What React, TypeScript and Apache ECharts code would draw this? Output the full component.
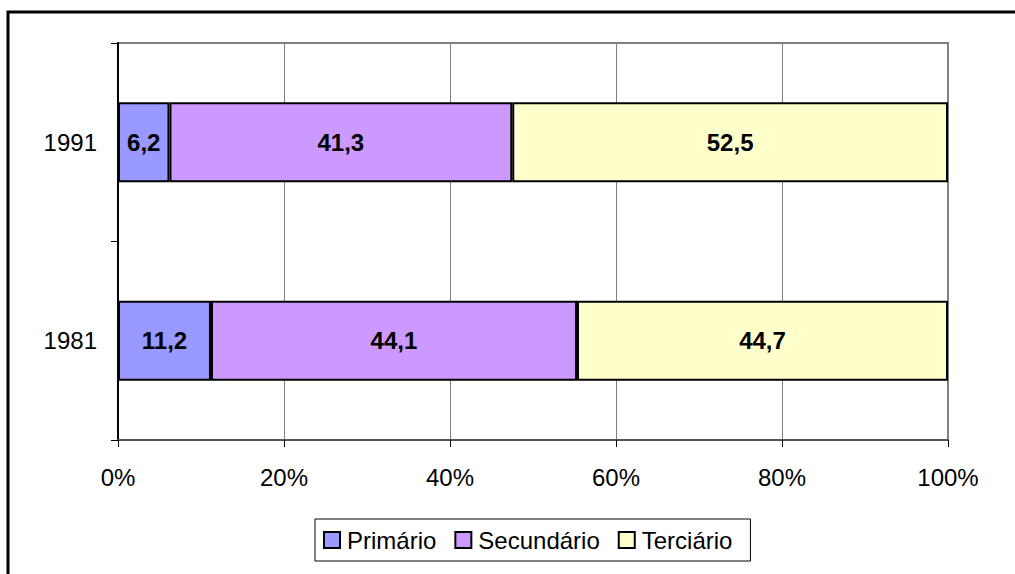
import React, { useEffect, useRef } from "react";
import * as echarts from "echarts";

const years = ["1981", "1991"];
const primario = [11.2, 6.2];
const secundario = [44.1, 41.3];
const terciario = [44.7, 52.5];
const xTicks = [0, 20, 40, 60, 80, 100];

const FONT = "'Liberation Sans', Arial, sans-serif";

export default function App() {
  const ref = useRef<HTMLDivElement>(null);
  useEffect(() => {
    if (!ref.current) return;
    const chart = echarts.init(ref.current, undefined, { renderer: "svg" });
    const fmt = (p: any) => String(p.value).replace(".", ",");
    const mk = (name: string, data: number[], color: string) => ({
      name,
      type: "bar",
      stack: "total",
      data,
      barWidth: 80,
      itemStyle: { color, borderColor: "#000", borderWidth: 2 },
      label: {
        show: true,
        position: "inside",
        formatter: fmt,
        color: "#000",
        fontWeight: "bold",
        fontSize: 24,
        fontFamily: FONT,
      },
    });
    chart.setOption({
      animation: false,
      textStyle: { fontFamily: FONT },
      grid: {
        left: 118,
        top: 43,
        width: 830,
        height: 397,
        show: true,
        borderColor: "#808080",
        borderWidth: 2,
        backgroundColor: "transparent",
      },
      graphic: [
        {
          type: "rect",
          shape: { x: 8, y: 12, width: 1200, height: 800 },
          style: { fill: "none", stroke: "#000", lineWidth: 3 },
          silent: true,
        },
      ],
      legend: {
        left: 315,
        top: 519,
        itemWidth: 16,
        itemHeight: 16,
        itemGap: 18,
        icon: "rect",
        borderColor: "#000",
        borderWidth: 1,
        padding: [9, 18, 9, 8],
        textStyle: { fontSize: 24, color: "#000", fontFamily: FONT, padding: [0, 0, 0, 2] },
        data: ["Primário", "Secundário", "Terciário"],
      },
      xAxis: {
        type: "value",
        min: 0,
        max: 100,
        interval: 20,
        axisLine: { show: true, lineStyle: { color: "#555", width: 2 } },
        axisTick: { show: true, length: 7, lineStyle: { color: "#000" } },
        splitLine: { show: true, lineStyle: { color: "#808080", width: 1 } },
        axisLabel: {
          formatter: (v: number) => (xTicks.includes(v) ? v + "%" : ""),
          fontSize: 24,
          color: "#000",
          margin: 25,
          fontFamily: FONT,
        },
      },
      yAxis: {
        type: "category",
        data: years,
        axisLine: { show: true, lineStyle: { color: "#000", width: 2 } },
        axisTick: { show: true, length: 7, alignWithLabel: false, lineStyle: { color: "#000" } },
        splitLine: { show: false },
        axisLabel: { fontSize: 24, color: "#000", margin: 21, fontFamily: FONT },
      },
      series: [
        mk("Primário", primario, "#9999FF"),
        mk("Secundário", secundario, "#CC99FF"),
        mk("Terciário", terciario, "#FFFFCC"),
      ],
    });
    return () => chart.dispose();
  }, []);
  return (
    <div
      ref={ref}
      style={{ position: "fixed", left: 0, top: 0, width: 1015, height: 574, background: "#fff" }}
    />
  );
}
